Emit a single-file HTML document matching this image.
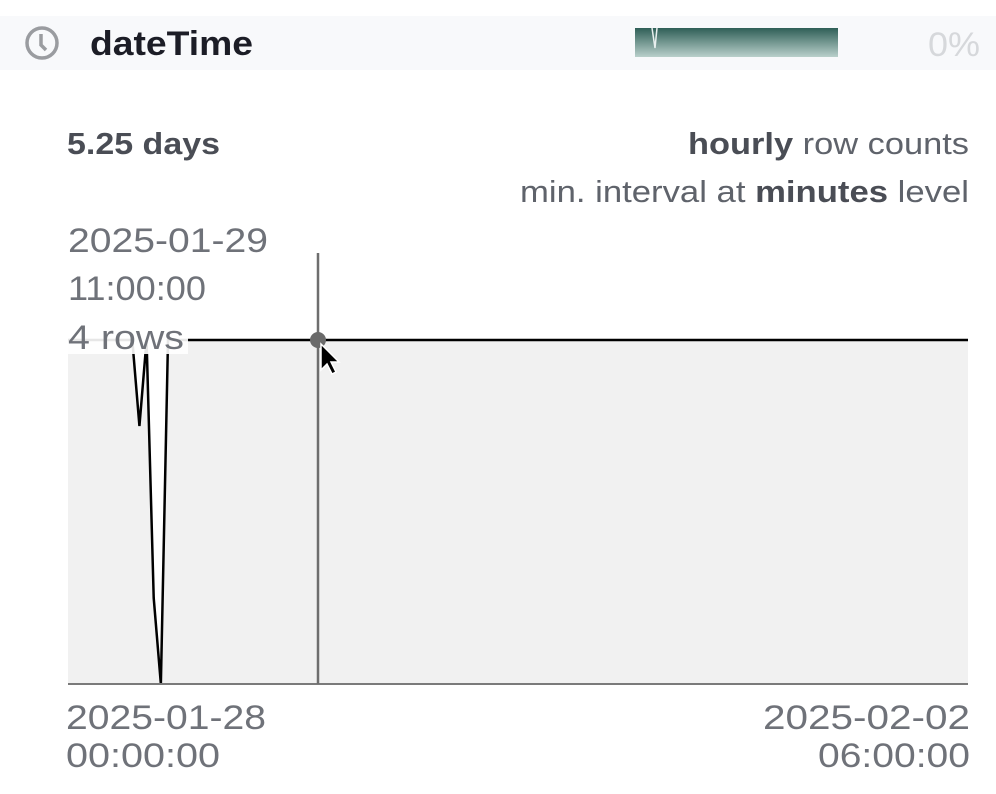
<!DOCTYPE html>
<html><head><meta charset="utf-8"><style>
html,body{margin:0;padding:0;background:#fff;}
svg{display:block;font-family:"Liberation Sans",sans-serif;}
</style></head><body>
<svg width="996" height="794" viewBox="0 0 996 794">
<defs>
<linearGradient id="spark" x1="0" y1="0" x2="0" y2="1">
<stop offset="0" stop-color="#2f5f57"/><stop offset="1" stop-color="#b9d0cb"/>
</linearGradient>
</defs>
<rect x="0" y="16" width="996" height="54" fill="#f8f9fb"/>
<g>
<circle cx="42" cy="43" r="15" fill="none" stroke="#9a9ca0" stroke-width="3.5"/>
<path d="M41 34 L41 45 L46 50" fill="none" stroke="#9a9ca0" stroke-width="3.5"/>
</g>
<text x="90" y="55" font-size="34" font-weight="bold" fill="#1c1d26" textLength="163" lengthAdjust="spacingAndGlyphs">dateTime</text>
<rect x="635" y="28" width="203" height="29" fill="url(#spark)"/>
<path d="M652 28 L655 48 L657 28" fill="none" stroke="#e8efee" stroke-width="1.5"/>
<text x="980" y="56" font-size="34" fill="#d6d8db" text-anchor="end" textLength="52" lengthAdjust="spacingAndGlyphs">0%</text>

<text x="67" y="154" font-size="31" font-weight="bold" fill="#4a4d55" textLength="153" lengthAdjust="spacingAndGlyphs">5.25 days</text>
<text x="969" y="154" font-size="31" fill="#5f636b" text-anchor="end" textLength="281" lengthAdjust="spacingAndGlyphs"><tspan font-weight="bold" fill="#4a4d55">hourly</tspan> row counts</text>
<text x="969" y="202" font-size="31" fill="#5f636b" text-anchor="end" textLength="449" lengthAdjust="spacingAndGlyphs">min. interval at <tspan font-weight="bold" fill="#4a4d55">minutes</tspan> level</text>

<g id="chart"></g>

<text x="68" y="252" font-size="34" fill="#6f7279" textLength="200" lengthAdjust="spacingAndGlyphs">2025-01-29</text>
<text x="68" y="300" font-size="34" fill="#6f7279" textLength="138" lengthAdjust="spacingAndGlyphs">11:00:00</text>
<rect x="66" y="320" width="122" height="34" fill="#fff" opacity="0.9"/>
<text x="68" y="349" font-size="34" fill="#6f7279" textLength="116" lengthAdjust="spacingAndGlyphs">4 rows</text>

<text x="66" y="729" font-size="34" fill="#6f7279" textLength="200" lengthAdjust="spacingAndGlyphs">2025-01-28</text>
<text x="66" y="767" font-size="34" fill="#6f7279" textLength="154" lengthAdjust="spacingAndGlyphs">00:00:00</text>
<text x="970" y="729" font-size="34" fill="#6f7279" text-anchor="end" textLength="207" lengthAdjust="spacingAndGlyphs">2025-02-02</text>
<text x="970" y="767" font-size="34" fill="#6f7279" text-anchor="end" textLength="152" lengthAdjust="spacingAndGlyphs">06:00:00</text>
</svg>
<script>
// hourly row counts, hour 0 = 2025-01-28 00:00, last = 2025-02-02 06:00
const hours = Array.from({length:127},(_,i)=>i);
const counts = [4,4,4,4,4,4,4,4,4,4,3,4,1,0,4,4,4,4,4,4,
4,4,4,4,4,4,4,4,4,4,4,4,4,4,4,4,4,4,4,4,
4,4,4,4,4,4,4,4,4,4,4,4,4,4,4,4,4,4,4,4,
4,4,4,4,4,4,4,4,4,4,4,4,4,4,4,4,4,4,4,4,
4,4,4,4,4,4,4,4,4,4,4,4,4,4,4,4,4,4,4,4,
4,4,4,4,4,4,4,4,4,4,4,4,4,4,4,4,4,4,4,4,
4,4,4,4,4,4,4];
const hoverHour = 35;
const yMax = 4;
const X0=68,X1=968,Y0=684,Y1=340;
const xs = h => X0 + (h/126)*(X1-X0);
const ys = v => Y0 - (v/yMax)*(Y0-Y1);
const NS="http://www.w3.org/2000/svg";
const g=document.getElementById('chart');
function mk(t,a){const e=document.createElementNS(NS,t);for(const k in a)e.setAttribute(k,a[k]);g.appendChild(e);return e;}
let d=counts.map((v,i)=>(i?'L':'M')+xs(hours[i]).toFixed(2)+' '+ys(v).toFixed(2)).join(' ');
const bg=mk('rect',{x:X0,y:Y1,width:X1-X0,height:Y0-Y1,fill:'#ffffff'});


const area=mk('path',{d:d+` L${X1} ${Y0} L${X0} ${Y0} Z`,fill:'#f1f1f1'});


const line=mk('path',{d:d,fill:'none',stroke:'#000',"stroke-width":2.5,"stroke-linejoin":'miter'});


const ax=mk('line',{x1:X0,x2:X1,y1:Y0,y2:Y0,stroke:'#7a7a7a',"stroke-width":2});


const cx=xs(hoverHour);
const vl=mk('line',{x1:cx,x2:cx,y1:253,y2:Y0,stroke:'#6e6e6e',"stroke-width":2.5});


const dot=mk('circle',{cx:cx,cy:ys(counts[hoverHour]),r:8,fill:'#6a6a6a'});


const cur=mk('path',{d:`M${cx+3} ${ys(counts[hoverHour])+4} l0 26 l6 -6 l5 10 l4 -2 l-5 -10 l8 0 Z`,fill:'#000',stroke:'#fff',"stroke-width":1.5});


</script>
</body></html>
